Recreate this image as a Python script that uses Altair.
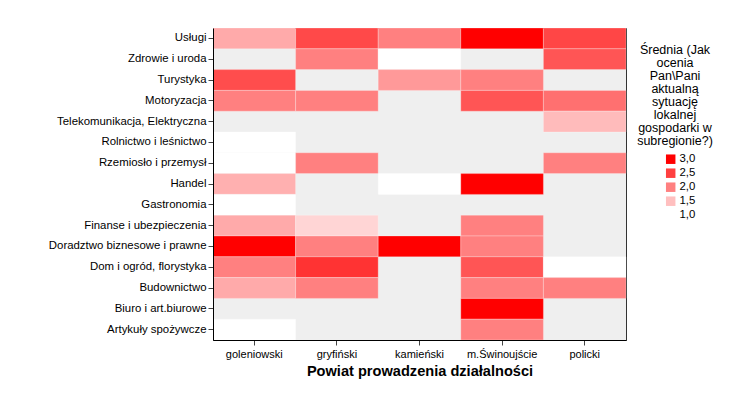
import altair as alt
import pandas as pd

counties = ["goleniowski", "gryfiński", "kamieński", "m.Świnoujście", "policki"]
sectors = ["Usługi", "Zdrowie i uroda", "Turystyka", "Motoryzacja",
           "Telekomunikacja, Elektryczna", "Rolnictwo i leśnictwo",
           "Rzemiosło i przemysł", "Handel", "Gastronomia",
           "Finanse i ubezpieczenia", "Doradztwo biznesowe i prawne",
           "Dom i ogród, florystyka", "Budownictwo", "Biuro i art.biurowe",
           "Artykuły spożywcze"]

goleniowski = [1.67, None, 2.4, 2.0, None, 1.0, 1.0, 1.62, 1.0, 1.67, 3.0, 2.0, 1.67, None, 1.0]
gryfinski = [2.43, 2.0, None, 2.0, None, None, 2.0, None, None, 1.33, 2.0, 2.6, 2.0, None, None]
kamienski = [2.0, 1.0, 1.8, None, None, None, None, 1.0, None, None, 3.0, None, None, None, None]
swinoujscie = [3.0, None, 2.0, 2.33, None, None, None, 3.0, None, 2.0, 2.0, 2.33, 2.0, 3.0, 2.0]
policki = [2.45, 2.33, None, 2.12, 1.53, None, 2.0, None, None, None, None, 1.0, 2.0, None, None]

legend_values = [3.0, 2.5, 2.0, 1.5, 1.0]

series = [goleniowski, gryfinski, kamienski, swinoujscie, policki]
rows = []
for county, vals in zip(counties, series):
    for sector, v in zip(sectors, vals):
        if v is not None:
            rows.append({"powiat": county, "branza": sector, "srednia": v})
df = pd.DataFrame(rows)

FONT = "Liberation Sans"

chart = alt.Chart(df).mark_rect(stroke="white", strokeWidth=1, strokeOpacity=0.25).encode(
    x=alt.X("powiat:N", sort=counties, title="Powiat prowadzenia działalności",
            axis=alt.Axis(labelAngle=0, labelFontSize=11, titleFontSize=14.6,
                          titleFontWeight="bold", tickSize=5, labelPadding=3,
                          titlePadding=4, tickColor="#444", domainColor="#000",
                          labelColor="#000", titleColor="#000")),
    y=alt.Y("branza:N", sort=sectors, title=None,
            axis=alt.Axis(labelFontSize=11.4, tickSize=5, labelPadding=2,
                          tickColor="#444", domainColor="#000", labelColor="#000")),
    color=alt.Color("srednia:Q",
                    scale=alt.Scale(domain=[1, 3], range=["#ffffff", "#ff0000"],
                                    interpolate="rgb"),
                    legend=alt.Legend(
                        type="symbol",
                        values=legend_values,
                        title=["Średnia (Jak", "ocenia", "Pan\\Pani", "aktualną",
                               "sytuację", "lokalnej", "gospodarki w", "subregionie?)"],
                        titleFontSize=12.5, titleFontWeight="normal", titleColor="#000",
                        titleLineHeight=13, titleAnchor="middle", titleAlign="center",
                        titlePadding=6, labelFontSize=11.4, labelColor="#000",
                        symbolType="square", symbolSize=90, symbolStrokeWidth=0,
                        symbolOffset=11, labelOffset=3, rowPadding=1,
                        orient="none", legendX=424, legendY=16,
                        labelExpr="replace(format(datum.value, '.1f'), '.', ',')")),
).properties(
    width=413, height=312,
    padding={"left": 205, "top": 20, "right": 122, "bottom": 63},
    autosize=alt.AutoSizeParams(type="none"),
).configure(
    font=FONT, background="white"
).configure_view(
    fill="#efefef", stroke="#333", strokeWidth=1
)

chart.save("out.html", embed_options={"renderer": "svg", "actions": False})
